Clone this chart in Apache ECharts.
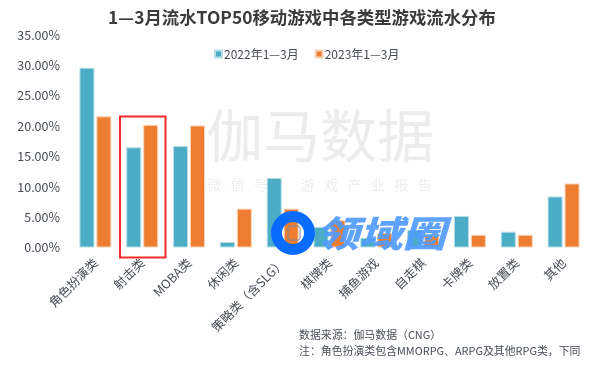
<!DOCTYPE html>
<html>
<head>
    <meta charset="utf-8">
    <title>1—3月流水TOP50移动游戏中各类型游戏流水分布</title>
    <script src="https://cdn.jsdelivr.net/npm/echarts@6/dist/echarts.min.js"></script>
    <style>
        html, body { margin: 0; padding: 0; background: #fff; }
    </style>
</head>
<body>
    <div id="main" style="width: 604px;height:369px;"></div>
    <script type="text/javascript">
        var categories = ['角色扮演类', '射击类', 'MOBA类', '休闲类', '策略类（含SLG）', '棋牌类', '捕鱼游戏', '自走棋', '卡牌类', '放置类', '其他'];
        var values2022 = [29.6, 16.5, 16.7, 0.9, 11.45, 3.4, 1.6, 2.9, 5.2, 2.6, 8.4];
        var values2023 = [21.6, 20.2, 20.1, 6.4, 6.4, 4.5, 2.4, 2.0, 2.1, 2.1, 10.55];
        var name2022 = '2022年1—3月';
        var name2023 = '2023年1—3月';

        var font = '"Noto Sans CJK SC", "Noto Sans", sans-serif';
        var textColor = '#474c55';
        var myChart = echarts.init(document.getElementById('main'));

        function barStyle(color, border) {
            return { color: color, borderColor: border, borderWidth: 1 };
        }

        var option = {
            animation: false,
            backgroundColor: '#fff',
            title: {
                text: '1—3月流水TOP50移动游戏中各类型游戏流水分布',
                left: 'center',
                top: 4,
                textStyle: { color: '#3b3b3b', fontSize: 17.4, fontWeight: 'bold', fontFamily: font }
            },
            legend: {
                top: 43,
                left: 209,
                itemWidth: 7,
                itemHeight: 7,
                itemGap: 16,
                icon: 'rect',
                textStyle: { color: textColor, fontSize: 12, fontFamily: font, padding: [0, 0, 0, -3] },
                data: [name2022, name2023]
            },
            grid: { left: 72, right: 17, top: 35, height: 212.5 },
            xAxis: {
                type: 'category',
                data: categories,
                axisLine: { show: false },
                axisTick: { show: false },
                axisLabel: {
                    interval: 0,
                    rotate: 45,
                    margin: 13,
                    lineHeight: 24,
                    color: textColor,
                    fontSize: 12.5,
                    fontFamily: font
                }
            },
            yAxis: {
                type: 'value',
                min: 0,
                max: 35,
                interval: 5,
                splitLine: { show: false },
                axisLine: { show: false },
                axisTick: { show: false },
                axisLabel: {
                    margin: 12,
                    color: textColor,
                    fontSize: 12.5,
                    fontFamily: font,
                    formatter: function (v) { return v.toFixed(2) + '%'; }
                }
            },
            series: [{
                name: name2022,
                type: 'bar',
                data: values2022,
                barWidth: 15,
                barGap: '13%',
                itemStyle: barStyle('#4bacc6', '#b5dde8'),
                z: 2
            }, {
                name: name2023,
                type: 'bar',
                data: values2023,
                barWidth: 15,
                itemStyle: barStyle('#ed7d31', '#f9d3b8'),
                z: 2
            }],
            graphic: [
                // 高亮射击类的红框
                { type: 'rect', shape: { x: 120, y: 116.5, width: 45.5, height: 141 }, style: { fill: 'none', stroke: '#f52b2b', lineWidth: 2 }, z: 5 },
                // 水印
                { type: 'text', x: 206, y: 107, style: { text: '伽马数据', fill: '#ececec', font: '400 57px ' + font }, z: 1 },
                { type: 'text', x: 207, y: 178, style: { text: '微   信   号   ：   游   戏   产   业   报   告', fill: '#eeeeee', font: '400 14px ' + font }, z: 1 },
                // 领域圈角标
                { type: 'circle', shape: { cx: 293, cy: 233, r: 16.5 }, style: { fill: 'none', stroke: '#0a6cff', lineWidth: 11 }, z: 6 },
                { type: 'rect', shape: { x: 288, y: 226, width: 12, height: 14, r: 2 }, style: { fill: 'none', stroke: '#7d8aa0', lineWidth: 1 }, z: 6 },
                { type: 'text', x: 316, y: 215, scaleX: 1.2, style: { text: '领域圈', fill: 'rgba(80,155,255,0.92)', font: 'italic 900 36px ' + font }, z: 6 },
                // 来源和注释
                { type: 'text', x: 299, y: 329, style: { text: '数据来源：伽马数据（CNG）', fill: textColor, font: '10.9px ' + font }, z: 3 },
                { type: 'text', x: 299, y: 345, style: { text: '注：角色扮演类包含MMORPG、ARPG及其他RPG类，下同', fill: textColor, font: '10.9px ' + font }, z: 3 }
            ]
        };

        myChart.setOption(option, true);
    </script>
</body>
</html>
